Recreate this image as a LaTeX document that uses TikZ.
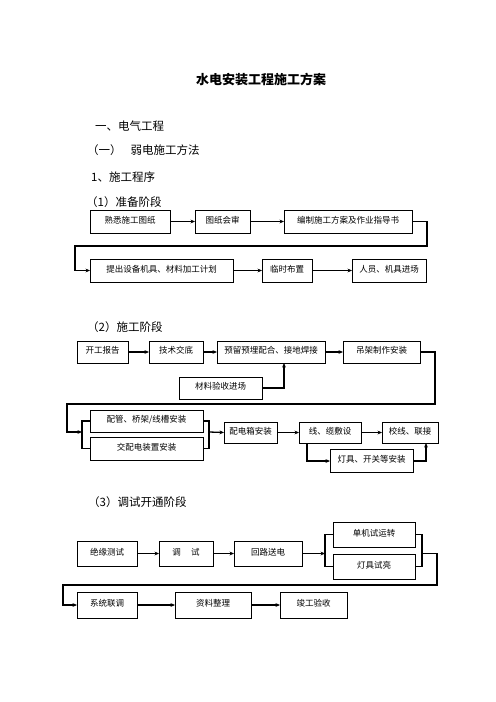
\documentclass[tikz,border=0pt]{standalone}
\usepackage{fontspec}
\setmainfont{Noto Sans CJK SC}
\usetikzlibrary{shadows,arrows.meta}
\newcommand\bx[6]{%
  \node[boxst, minimum width={(#4-#2)*1bp}, minimum height={(#5-#3)*1bp}] (#1) at ({(#2+#4)/2},{(#3+#5)/2}) {#6};}
\begin{document}
\begin{tikzpicture}[x=1bp,y=-1bp,
  boxst/.style={draw, line width=0.6bp, fill=white, inner sep=0pt, outer sep=0pt,
    font=\fontsize{8.5bp}{10bp}\selectfont, text height=7bp, text depth=4bp,
    general shadow={fill=black, shadow xshift=1.3bp, shadow yshift=-1.3bp}},
  conn/.style={line width=1.3bp},
  arr/.style={conn, -{Stealth[length=4.5bp,width=3.8bp]}},
  head/.style={anchor=west, font=\fontsize{11.5bp}{13bp}\selectfont, inner sep=0pt}
]
\useasboundingbox[fill=white] (0,0) rectangle (496,702);

% headings
\node[font=\bfseries\fontsize{13bp}{15bp}\selectfont] (title) at (261,80) {水电安装工程施工方案};
\node[head] (h1) at (95,126) {一、电气工程};
\node[head] (h2) at (87,150) {（一）\hspace{9bp}弱电施工方法};
\node[head] (h3) at (91,177) {1、施工程序};
\node[head] (h4) at (86,202) {（1）准备阶段};
\node[head] (h5) at (87,327) {（2）施工阶段};
\node[head] (h6) at (88,502) {（3）调试开通阶段};

% stage 1
\bx{b1}{90}{210}{170}{233}{熟悉施工图纸}
\bx{b2}{195}{210}{250}{233}{图纸会审}
\bx{b3}{284}{210}{412}{233}{编制施工方案及作业指导书}
\bx{b4}{90}{259}{233}{282}{提出设备机具、材料加工计划}
\bx{b5}{262}{259}{312}{282}{临时布置}
\bx{b6}{352}{259}{426}{282}{人员、机具进场}
\draw[arr] (b1) -- (b2);
\draw[arr] (b2) -- (b3);
\coordinate (r1) at (427,246);
\coordinate (l1) at (75,246);
\draw[arr] (b3.east) -| (r1) -- (l1) |- (b4.west);
\draw[arr] (b4) -- (b5);
\draw[arr] (b5) -- (b6);

% stage 2
\bx{c1}{77}{341}{128}{363}{开工报告}
\bx{c2}{149}{341}{203}{363}{技术交底}
\bx{c3}{217}{341}{325}{363}{预留预埋配合、接地焊接}
\bx{c4}{343}{341}{420}{363}{吊架制作安装}
\bx{c5}{179}{377}{262}{399}{材料验收进场}
\draw[arr] (c1) -- (c2);
\draw[arr] (c2) -- (c3);
\draw[arr] (c3) -- (c4);
\coordinate (u2) at (284,388);
\draw[arr] (c5.east |- u2) -- (u2) -- (u2 |- c3.south);
\coordinate (r2) at (435,404);
\coordinate (l2) at (67,404);
\coordinate (bl2) at (82,432);
\draw[arr] (c4.east) -| (r2) -- (l2) |- (bl2);

\bx{d1}{90}{410}{203}{432}{配管、桥架/线槽安装}
\bx{d2}{90}{437}{203}{460}{交配电装置安装}
\bx{d3}{224}{422}{277}{443}{配电箱安装}
\bx{d4}{299}{422}{361}{443}{线、缆敷设}
\bx{d5}{382}{422}{438}{443}{校线、联接}
\bx{d6}{330}{449}{413}{472}{灯具、开关等安装}
\draw[conn] (d1.west) -| (bl2) |- (d2.west);
\coordinate (br2) at (209,432);
\draw[conn] (d1.east) -| (br2) |- (d2.east);
\draw[arr] (br2) -- (d3.west);
\draw[arr] (d3) -- (d4);
\draw[arr] (d4) -- (d5);
\coordinate (dn2) at (307,461);
\draw[arr] (d4.south -| dn2) -- (dn2) -- (d6.west |- dn2);
\coordinate (up2) at (426,461);
\draw[arr] (d6.east |- up2) -- (up2) -- (up2 |- d5.south);

% stage 3
\bx{e1}{77}{541}{137}{566}{绝缘测试}
\bx{e2}{159}{541}{213}{566}{调\hspace{1.2em}试}
\bx{e3}{234}{541}{302}{566}{回路送电}
\bx{e4}{333}{522}{415}{547}{单机试运转}
\bx{e5}{333}{554}{415}{579}{灯具试亮}
\draw[arr] (e1) -- (e2);
\draw[arr] (e2) -- (e3);
\coordinate (bl3) at (325,553.5);
\draw[conn] (e4.west) -| (bl3) |- (e5.west);
\draw[arr] (e3.east) -- (bl3);
\coordinate (br3) at (422,553.5);
\draw[conn] (e4.east) -| (br3) |- (e5.east);
\coordinate (r3) at (437,585);
\coordinate (l3) at (63,585);

\bx{f1}{77}{592}{137}{618}{系统联调}
\bx{f2}{175}{592}{251}{618}{资料整理}
\bx{f3}{280}{592}{347}{618}{竣工验收}
\draw[arr] (br3) -| (r3) -- (l3) |- (f1.west);
\draw[arr] (f1) -- (f2);
\draw[arr] (f2) -- (f3);
\end{tikzpicture}
\end{document}
